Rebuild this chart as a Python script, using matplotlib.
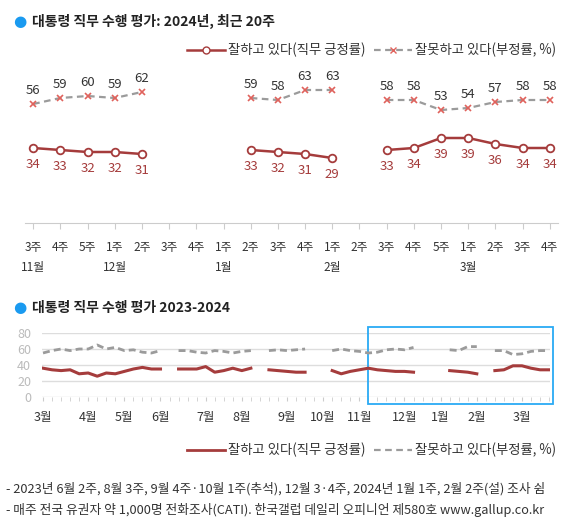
import numpy as np
import matplotlib
matplotlib.use("Agg")
import matplotlib.pyplot as plt
from matplotlib.lines import Line2D
from matplotlib.patches import Rectangle

plt.rcParams['font.family'] = ['Noto Sans CJK KR', 'DejaVu Sans']

nan = np.nan

# top chart: last 20 weeks
week_labels = ["3주", "4주", "5주", "1주", "2주", "3주", "4주", "1주", "2주", "3주",
               "4주", "1주", "2주", "3주", "4주", "5주", "1주", "2주", "3주", "4주"]
month_pos = [0, 3, 7, 11, 16]
month_names = ["11월", "12월", "1월", "2월", "3월"]
pos_recent = [34, 33, 32, 32, 31, nan, nan, nan, 33, 32, 31, 29, nan,
              33, 34, 39, 39, 36, 34, 34]
neg_recent = [56, 59, 60, 59, 62, nan, nan, nan, 59, 58, 63, 63, nan,
              58, 58, 53, 54, 57, 58, 58]

# bottom chart: weekly 2023-03 .. 2024-03
pos_all = [36, 34, 33, 34, 29, 30, 26, 30, 29, 32, 35, 37, 35, 35, nan,
           35, 35, 35, 38, 31, 33, 36, 33, 36, nan,
           34, 33, 32, 31, 31, nan, nan,
           33, 29, 32, 34, 36, 34, 33, 32, 32, 31, nan, nan, nan,
           33, 32, 31, 29, nan,
           33, 34, 39, 39, 36, 34, 34]
neg_all = [55, 58, 60, 58, 60, 60, 65, 60, 62, 58, 59, 56, 55, 58, nan,
           58, 58, 56, 55, 58, 57, 55, 57, 58, nan,
           58, 59, 58, 59, 60, nan, nan,
           58, 60, 58, 57, 55, 56, 59, 60, 59, 62, nan, nan, nan,
           59, 58, 63, 63, nan,
           58, 58, 53, 54, 57, 58, 58]
all_month_pos = [0, 5, 9, 13, 18, 22, 27, 31, 35, 40, 44, 48, 53]
all_month_names = ["3월", "4월", "5월", "6월", "7월", "8월", "9월", "10월",
                   "11월", "12월", "1월", "2월", "3월"]

RED = '#a53c3c'
XRED = '#e0625c'
GRAY = '#9b9b9b'
BLUE = '#1a9af0'

fig = plt.figure(figsize=(5.8, 5.29), dpi=100)

# ---- titles
fig.text(13/580, 1-21/529, "●", color=BLUE, fontsize=11, va='center', family='DejaVu Sans')
fig.text(32/580, 1-21/529, "대통령 직무 수행 평가: 2024년, 최근 20주", fontsize=10,
         fontweight='bold', va='center', color='#222')
fig.text(13/580, 1-308/529, "●", color=BLUE, fontsize=11, va='center', family='DejaVu Sans')
fig.text(32/580, 1-308/529, "대통령 직무 수행 평가 2023-2024", fontsize=10,
         fontweight='bold', va='center', color='#222')

# ---- top chart
ax = fig.add_axes([25/580, 1-223/529, 533/580, 163/529])
x = np.arange(len(week_labels))
ax.plot(x, neg_recent, color=GRAY, lw=1.6, dashes=(3, 2), marker='x',
        markeredgecolor=XRED, markersize=5, markeredgewidth=1.2)
ax.plot(x, pos_recent, color=RED, lw=1.8, marker='o', markerfacecolor='white',
        markeredgecolor=RED, markersize=5.5, markeredgewidth=1.3)
for i in range(len(x)):
    if not np.isnan(pos_recent[i]):
        ax.annotate(f"{pos_recent[i]:.0f}", (x[i], pos_recent[i]), xytext=(0, -12),
                    textcoords='offset points', ha='center', va='center',
                    fontsize=9.5, color=RED)
    if not np.isnan(neg_recent[i]):
        ax.annotate(f"{neg_recent[i]:.0f}", (x[i], neg_recent[i]), xytext=(0, 9.5),
                    textcoords='offset points', ha='center', va='center',
                    fontsize=9.5, color='#333')
ax.set_xlim(-0.3, 19.3)
ax.set_ylim(-3.5, 78)
ax.set_xticks(x)
ax.set_xticklabels(week_labels, fontsize=8.5, color='#333')
ax.set_yticks([])
for s in ['top', 'left', 'right']:
    ax.spines[s].set_visible(False)
ax.spines['bottom'].set_color('#cccccc')
ax.tick_params(axis='x', colors='#cccccc', length=4, pad=9, labelcolor='#333')
for p, m in zip(month_pos, month_names):
    ax.annotate(m, (p, 0), xycoords=('data', 'axes fraction'), xytext=(0, -32),
                textcoords='offset points', ha='center', va='center',
                fontsize=8.5, color='#333')

fig.legend(handles=[Line2D([], [], color=RED, lw=1.8, marker='o', markerfacecolor='white',
                           markeredgecolor=RED, markersize=5),
                    Line2D([], [], color=GRAY, lw=1.6, dashes=(3, 2), marker='x',
                           markeredgecolor=XRED, markersize=5)],
           labels=["잘하고 있다(직무 긍정률)", "잘못하고 있다(부정률, %)"],
           loc='center right', bbox_to_anchor=(556/580, 1-50/529), ncol=2,
           frameon=False, fontsize=9.6, handlelength=2.9, handletextpad=0.2,
           columnspacing=0.6, borderpad=0, borderaxespad=0, labelcolor='#333')

# ---- bottom chart
bx = fig.add_axes([42.1/580, 1-397/529, 507.9/580, 64/529])
xa = np.arange(len(pos_all))
bx.plot(xa, neg_all, color=GRAY, lw=2, dashes=(2.5, 1.5))
bx.plot(xa, pos_all, color=RED, lw=2.2)
bx.set_xlim(-0.1, 56.1)
bx.set_ylim(0, 80)
bx.set_yticks([0, 20, 40, 60, 80])
bx.set_yticklabels(["0", "20", "40", "60", "80"])
bx.grid(axis='y', color='#dddddd', lw=1)
bx.set_axisbelow(True)
for s in bx.spines.values():
    s.set_visible(False)
bx.tick_params(axis='y', length=0, labelsize=9, labelcolor='#bbbbbb', pad=8)
bx.set_xticks(all_month_pos)
bx.set_xticklabels(all_month_names)
bx.set_xticks(xa, minor=True)
bx.tick_params(axis='x', which='both', length=3, color='#cccccc')
bx.tick_params(axis='x', which='major', labelsize=9, labelcolor='#333', pad=7)
bx.add_patch(Rectangle((36.0, -8.75), 20.45, 96.25, fill=False, edgecolor='#2aaaf5',
                       lw=1.3, clip_on=False))

fig.legend(handles=[Line2D([], [], color=RED, lw=2),
                    Line2D([], [], color=GRAY, lw=1.6, dashes=(3, 2))],
           labels=["잘하고 있다(직무 긍정률)", "잘못하고 있다(부정률, %)"],
           loc='center right', bbox_to_anchor=(556/580, 1-450/529), ncol=2,
           frameon=False, fontsize=9.6, handlelength=2.9, handletextpad=0.2,
           columnspacing=0.6, borderpad=0, borderaxespad=0, labelcolor='#333')

# ---- footnotes
fig.text(6/580, 1-489/529,
         "- 2023년 6월 2주, 8월 3주, 9월 4주·10월 1주(추석), 12월 3·4주, 2024년 1월 1주, 2월 2주(설) 조사 쉼",
         fontsize=9.2, va='center', color='#333')
fig.text(6/580, 1-510/529,
         "- 매주 전국 유권자 약 1,000명 전화조사(CATI). 한국갤럽 데일리 오피니언 제580호 www.gallup.co.kr",
         fontsize=9.2, va='center', color='#333')

fig.savefig("out.png", dpi=100)
